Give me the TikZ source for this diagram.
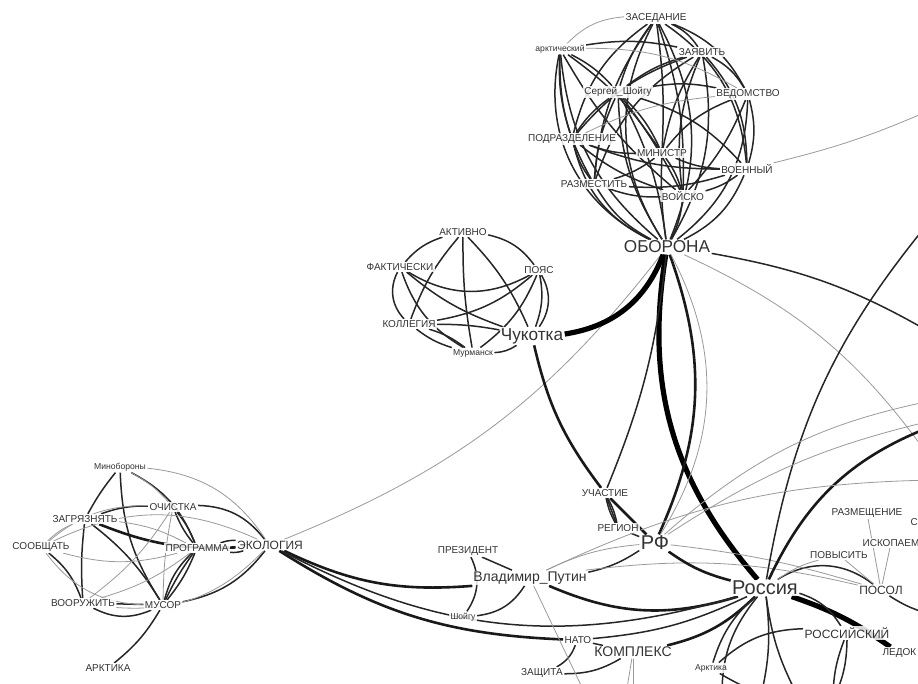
\documentclass[tikz,border=0pt]{standalone}
\usepackage{fontspec}
\setmainfont{Liberation Sans}
\usetikzlibrary{backgrounds}

\begin{document}
\begin{tikzpicture}[x=0.5pt, y=-0.5pt,
  lbl/.style={text=black!80, fill=white, fill opacity=0.85, text opacity=1, inner sep=0.6pt},
  tiny/.style={lbl, font=\fontsize{4.3}{5}\selectfont},
  word/.style={lbl, font=\fontsize{5}{6}\selectfont},
  mid/.style={lbl, font=\fontsize{6}{7}\selectfont},
  term/.style={lbl, font=\fontsize{7}{8}\selectfont},
  hub/.style={lbl, font=\fontsize{8.6}{10}\selectfont},
  big/.style={lbl, font=\fontsize{10}{12}\selectfont},
  link/.style={line width=0.75pt, black!85},
  faint/.style={line width=0.4pt, black!40},
  bold/.style={line width=1.3pt, black!90},
  heavy/.style={line width=2.6pt, black}
]
\useasboundingbox (0,0) rectangle (918,684);

% defence cluster
\node[word] (zased) at (656,18) {ЗАСЕДАНИЕ};
\node[tiny] (arkt) at (560,49) {арктический};
\node[word] (zayav) at (702,52) {ЗАЯВИТЬ};
\node[word] (shoigu) at (618,92) {Сергей\_Шойгу};
\node[word] (vedom) at (748,94) {ВЕДОМСТВО};
\node[word] (podraz) at (572,139) {ПОДРАЗДЕЛЕНИЕ};
\node[word] (minist) at (662,153) {МИНИСТР};
\node[word] (voen) at (747,169) {ВОЕННЫЙ};
\node[word] (razmest) at (594,184) {РАЗМЕСТИТЬ};
\node[word] (voisko) at (683,196) {ВОЙСКО};
\node[hub] (oborona) at (667,247) {ОБОРОНА};

% chukotka cluster
\node[word] (aktivno) at (463,232) {АКТИВНО};
\node[word] (fakt) at (400,267) {ФАКТИЧЕСКИ};
\node[word] (poyas) at (539,270) {ПОЯС};
\node[word] (kolleg) at (409,324) {КОЛЛЕГИЯ};
\node[hub] (chuk) at (532,336) {Чукотка};
\node[tiny] (murm) at (473,353) {Мурманск};

% ecology cluster
\node[tiny] (minob) at (120,467) {Минобороны};
\node[word] (ochist) at (173,507) {ОЧИСТКА};
\node[word] (zagr) at (85,519) {ЗАГРЯЗНЯТЬ};
\node[word] (soobsh) at (41,547) {СООБЩАТЬ};
\node[word] (progr) at (197,548) {ПРОГРАММА};
\node[mid] (ekol) at (270,545) {ЭКОЛОГИЯ};
\node[word] (vooruzh) at (83,603) {ВООРУЖИТЬ};
\node[word] (musor) at (163,605) {МУСОР};
\node[word] (arktika) at (108,668) {АРКТИКА};

% lower middle
\node[word] (uchast) at (605,493) {УЧАСТИЕ};
\node[word] (region) at (618,528) {РЕГИОН};
\node[big] (rf) at (655,543) {РФ};
\node[word] (prezid) at (468,551) {ПРЕЗИДЕНТ};
\node[term] (putin) at (530,578) {Владимир\_Путин};
\node[tiny] (shoigu2) at (463,617) {Шойгу};
\node[word] (nato) at (578,640) {НАТО};
\node[term] (kompl) at (633,652) {КОМПЛЕКС};
\node[word] (zashch) at (542,673) {ЗАЩИТА};
\node[tiny] (arktika2) at (711,668) {Арктика};

% right part
\node[big] (rossiya) at (765,588) {Россия};
\node[word] (razmesh) at (867,513) {РАЗМЕЩЕНИЕ};
\node[word, anchor=west] (sev) at (909,522) {С};
\node[word, anchor=west] (iskop) at (861,543) {ИСКОПАЕМ};
\node[word] (povys) at (839,555) {ПОВЫСИТЬ};
\node[mid] (posol) at (881,590) {ПОСОЛ};
\node[mid] (ross) at (847,633) {РОССИЙСКИЙ};
\node[word, anchor=west] (ledok) at (881,653) {ЛЕДОК};

% free ends past the border
\coordinate (eVoen) at (935,108);
\coordinate (eObor) at (935,335);
\coordinate (eOborB) at (935,465);
\coordinate (eRosA) at (935,215);
\coordinate (eRosB) at (935,425);
\coordinate (eRfA) at (935,400);
\coordinate (eRfB) at (935,420);
\coordinate (ePutin) at (935,480);
\coordinate (ePosol) at (935,615);
\coordinate (eKomplA) at (625,700);
\coordinate (eKomplB) at (633,700);
\coordinate (eRosC) at (760,700);
\coordinate (eRosD) at (800,700);
\coordinate (eRosE) at (722,700);
\coordinate (eRoss) at (833,700);
\coordinate (eArkt) at (790,700);
\coordinate (ePutinB) at (588,700);

\begin{scope}[on background layer]
% defence cluster links
\foreach \a/\b/\s in {arkt/oborona/-38, arkt/oborona/-22, zased/oborona/-30, zased/oborona/25,
    shoigu/oborona/-15, shoigu/oborona/10, podraz/oborona/-25, razmest/oborona/-15,
    minist/oborona/-5, zayav/oborona/20, vedom/oborona/25, voen/oborona/20, voisko/oborona/10,
    zased/zayav/15, zased/shoigu/-10, zased/vedom/20, zased/podraz/-20, zased/minist/5,
    zased/voen/25, zased/razmest/-15, zased/voisko/10,
    arkt/shoigu/10, arkt/zayav/10, arkt/podraz/-10, arkt/razmest/-15, arkt/minist/10, arkt/voisko/-10,
    zayav/shoigu/-10, zayav/vedom/15, zayav/voen/20, zayav/minist/-10, zayav/podraz/-15,
    zayav/razmest/-20, zayav/voisko/-15,
    shoigu/vedom/10, shoigu/podraz/-10, shoigu/minist/10, shoigu/voen/15, shoigu/razmest/-10, shoigu/voisko/5,
    vedom/minist/-15, vedom/voen/15, vedom/voisko/10,
    podraz/minist/-10, podraz/razmest/-10, podraz/voisko/-10, podraz/voen/-10,
    minist/voen/-10, minist/razmest/10, minist/voisko/10,
    voen/razmest/10, voen/voisko/10, razmest/voisko/-10}
  \draw[link] (\a) to[bend left=\s] (\b);
\draw[faint] (zased) to[bend right=20] (arkt);
\draw[faint] (arkt) to[bend left=15] (vedom);
\draw[faint] (vedom) to[bend right=10] (podraz);

% chukotka cluster links
\foreach \a/\b/\s in {aktivno/fakt/15, aktivno/poyas/-20, aktivno/kolleg/10, aktivno/murm/5,
    aktivno/chuk/-10, fakt/poyas/30, fakt/kolleg/35, fakt/murm/20, fakt/chuk/10,
    poyas/kolleg/-15, poyas/murm/-15, poyas/chuk/-15, poyas/chuk/-32,
    kolleg/murm/10, kolleg/murm/-10, kolleg/chuk/-5, murm/chuk/15}
  \draw[link] (\a) to[bend right=\s] (\b);

% ecology cluster links
\foreach \a/\b/\s in {minob/zagr/5, minob/progr/-20, minob/musor/15, ochist/ekol/-25,
    ochist/progr/8, ochist/progr/-8, ochist/zagr/10, zagr/vooruzh/5, zagr/musor/-10,
    soobsh/vooruzh/-15, progr/ekol/10, progr/ekol/-10, progr/musor/5, progr/musor/-8,
    progr/musor/15, ekol/musor/-20, vooruzh/musor/0, vooruzh/musor/25, musor/arktika/-10}
  \draw[link] (\a) to[bend right=\s] (\b);
\draw[bold] (zagr) to[bend right=12] (ekol);
\foreach \a/\b/\s in {minob/ochist/-10, minob/ekol/-25, soobsh/zagr/-10, soobsh/ochist/-20,
    soobsh/progr/15, soobsh/ekol/-25, soobsh/musor/25, vooruzh/ochist/10, vooruzh/progr/10,
    vooruzh/ekol/25, zagr/progr/-10, ochist/musor/5}
  \draw[faint] (\a) to[bend right=\s] (\b);

% long links
\draw[faint] (voen) to[bend right=5] (eVoen);
\draw[link] (oborona) to[bend left=10] (eObor);
\draw[faint] (oborona) to[bend left=15] (eOborB);
\draw[faint] (ekol) to[bend right=15] (oborona);
\draw[heavy] (chuk) to[bend right=30] (oborona);
\draw[heavy] (oborona) to[bend right=25] (rossiya);
\draw[bold] (oborona) to[bend left=22] (rf);
\draw[faint] (oborona) to[bend left=30] (rf);
\draw[link] (oborona) to[bend left=8] (uchast);
\draw[bold] (chuk) to[bend right=12] (uchast);
\draw[bold] (uchast) -- (rf);
\draw[link] (uchast) to[bend right=8] (region);
\draw[link] (uchast) -- (region);
\draw[link] (uchast) to[bend left=8] (region);
\draw[link] (region) -- (rf);
\draw[link] (putin) to[bend right=10] (rf);
\draw[faint] (putin) to[bend left=10] (rf);
\draw[link] (prezid) -- (putin);
\draw[link] (prezid) to[bend left=30] (shoigu2);
\draw[link] (shoigu2) to[bend right=25] (putin);
\draw[bold] (putin) to[bend right=20] (rossiya);
\draw[bold] (ekol) to[bend right=15] (putin);
\draw[bold] (ekol) to[bend right=15] (nato);
\draw[link] (ekol) to[bend right=22] (rossiya);
\draw[link] (nato) -- (kompl);
\draw[link] (nato) to[bend right=10] (rossiya);
\draw[link] (nato) to[bend left=20] (zashch);
\draw[link] (zashch) to[bend right=15] (kompl);
\draw[bold] (kompl) to[bend right=15] (rossiya);
\draw[faint] (kompl) -- (eKomplA);
\draw[faint] (kompl) -- (eKomplB);
\draw[link] (arktika2) to[bend left=15] (rossiya);
\draw[link] (arktika2) to[bend left=20] (ross);
\draw[link] (arktika2) to[bend right=10] (eArkt);
\draw[heavy] (rossiya) to[bend left=8] (ledok);
\draw[link] (rossiya) to[bend left=20] (ross);
\draw[link] (rossiya) to[bend left=35] (posol);
\draw[faint] (rossiya) to[bend left=10] (povys);
\draw[faint] (povys) -- (posol);
\draw[faint] (razmesh) -- (posol);
\draw[faint] (iskop) -- (posol);
\draw[faint] (rf) to[bend left=5] (posol);
\draw[faint] (putin) to[bend left=10] (posol);
\draw[link] (posol) to[bend right=10] (ePosol);
\draw[link] (rossiya) to[bend left=15] (eRosA);
\draw[bold] (rossiya) to[bend left=22] (eRosB);
\draw[faint] (rf) to[bend left=15] (eRfA);
\draw[faint] (rf) to[bend left=10] (eRfB);
\draw[faint] (putin) to[bend left=12] (ePutin);
\draw[bold] (rf) to[bend right=10] (rossiya);
\draw[link] (rossiya) to[bend left=10] (eRosC);
\draw[link] (rossiya) to[bend right=10] (eRosD);
\draw[link] (rossiya) to[bend right=20] (eRosE);
\draw[link] (ross) to[bend right=10] (eRoss);
\draw[link] (ross) to[bend left=12] (eRoss);
\draw[faint] (putin) -- (ePutinB);
\end{scope}
\end{tikzpicture}
\end{document}
